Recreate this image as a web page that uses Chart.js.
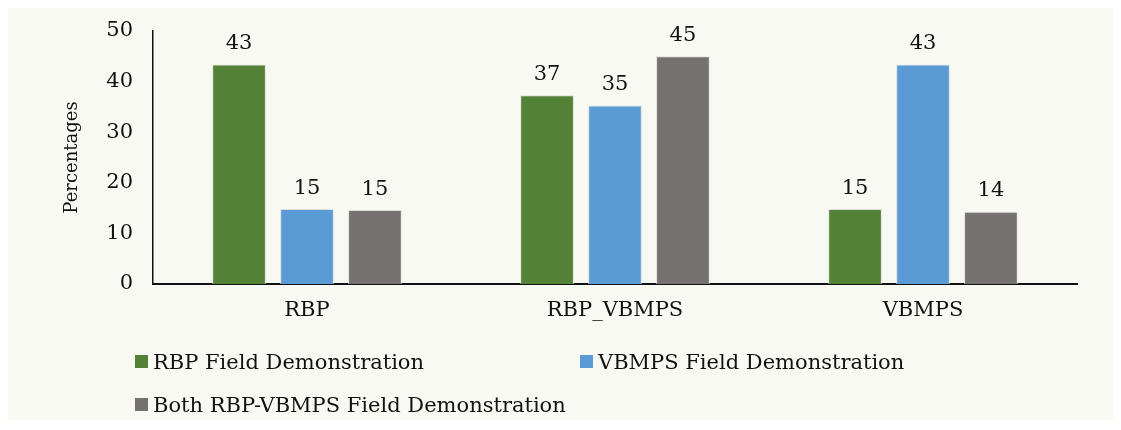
<!DOCTYPE html>
<html>
<head>
<meta charset="utf-8">
<script src="https://cdn.jsdelivr.net/npm/chart.js@4"></script>
<style>
  body { margin:0; background:#fff; }
  #box { position:absolute; left:8px; top:8px; width:1105px; height:412px; background:#f9f9f4; }
  #c { position:absolute; left:0; top:0; }
  .lg { position:absolute; font-family:"DejaVu Serif", serif; font-size:21px; color:#111; white-space:nowrap; line-height:22px; }
  .lg span { display:inline-block; width:13px; height:13px; margin-right:5px; vertical-align:1px; }
</style>
</head>
<body>
<div id="box">
  <canvas id="c" width="1105" height="412"></canvas>
  <div class="lg" style="left:127px;top:343px"><span style="background:#538135"></span>RBP Field Demonstration</div>
  <div class="lg" style="left:572px;top:343px"><span style="background:#5b9bd5"></span>VBMPS Field Demonstration</div>
  <div class="lg" style="left:127px;top:386px"><span style="background:#767171"></span>Both RBP-VBMPS Field Demonstration</div>
</div>
<script>
var categories = ["RBP", "RBP_VBMPS", "VBMPS"];
var rbpValues = [43.4, 37.3, 14.8];
var vbmpsValues = [14.8, 35.3, 43.4];
var bothValues = [14.6, 45.0, 14.3];
var yTicks = [0, 10, 20, 30, 40, 50];

var serif = "'DejaVu Serif', serif";

// value labels above each bar
var barLabels = {
    id: "barLabels",
    afterDatasetsDraw: function(chart) {
        var ctx = chart.ctx;
        ctx.save();
        ctx.font = "21px " + serif;
        ctx.fillStyle = "#111";
        ctx.textAlign = "center";
        ctx.textBaseline = "middle";
        chart.data.datasets.forEach(function(ds, i) {
            chart.getDatasetMeta(i).data.forEach(function(bar, j) {
                ctx.fillText(Math.round(ds.data[j]), bar.x, bar.y - 21);
            });
        });
        ctx.restore();
    }
};

new Chart(document.getElementById("c"), {
    type: "bar",
    data: {
        labels: categories,
        datasets: [
            { label: "RBP Field Demonstration", data: rbpValues, backgroundColor: "#538135" },
            { label: "VBMPS Field Demonstration", data: vbmpsValues, backgroundColor: "#5b9bd5" },
            { label: "Both RBP-VBMPS Field Demonstration", data: bothValues, backgroundColor: "#767171" }
        ]
    },
    options: {
        responsive: false,
        animation: false,
        datasets: {
            bar: {
                categoryPercentage: 0.662,
                barPercentage: 0.79,
                borderWidth: 1,
                borderColor: "rgba(220,220,214,0.9)"
            }
        },
        layout: { padding: { left: 0, right: 36, top: 23, bottom: 0 } },
        plugins: {
            legend: { display: false },
            tooltip: { enabled: false }
        },
        scales: {
            x: {
                grid: { display: false, drawTicks: false },
                border: { display: true, color: "#111", width: 2 },
                ticks: { color: "#111", font: { family: serif, size: 21 }, padding: 14 },
                afterFit: function(s) { s.height = 136; }
            },
            y: {
                min: 0,
                max: 50,
                afterBuildTicks: function(s) { s.ticks = yTicks.map(function(v) { return { value: v }; }); },
                grid: { display: false, drawTicks: false },
                border: { display: true, color: "#111", width: 1.5 },
                ticks: { color: "#111", font: { family: serif, size: 21 }, padding: 20 },
                title: { display: true, text: "Percentages", color: "#111", font: { family: serif, size: 18 }, padding: { top: 54, bottom: 0 } },
                afterFit: function(s) {
                    s.width = 145;
                    s.paddingTop = 0;
                    s.paddingBottom = 0;
                }
            }
        }
    },
    plugins: [barLabels]
});
</script>
</body>
</html>
